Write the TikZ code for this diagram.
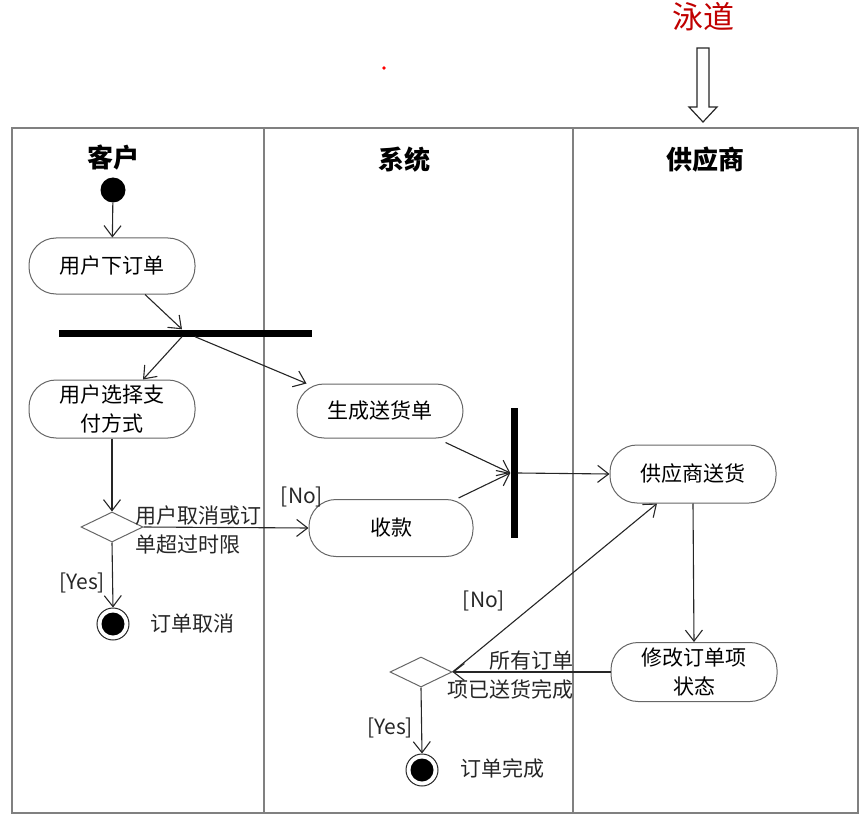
\documentclass[tikz,border=0pt]{standalone}
\usepackage{fontspec}
\setmainfont{Noto Sans CJK SC}
\usetikzlibrary{arrows.meta,shapes.geometric,calc}
\definecolor{lanered}{HTML}{C00000}
\begin{document}
\begin{tikzpicture}[x=1pt,y=-1pt,
  act/.style={draw=black!60, line width=1pt, rounded corners=27pt,
    minimum width=166pt, minimum height=56pt, align=center, inner sep=0pt,
    font=\fontsize{21}{29}\selectfont},
  flow/.style={draw=black!85, line width=1.1pt,
    -{Straight Barb[length=11pt,width=17pt,line width=1.1pt]}},
  dec/.style={diamond, draw=black!60, line width=1pt, aspect=2,
    minimum width=62pt, minimum height=30pt, inner sep=0pt},
  bar/.style={fill=black, draw=none, inner sep=0pt},
  lbl/.style={font=\fontsize{21}{29}\selectfont, inner sep=0pt, text=black!85},
  head/.style={font=\fontsize{26}{30}\selectfont\bfseries, inner sep=0pt},
  startnode/.style={circle, fill=black, minimum size=25pt, inner sep=0pt},
  endring/.style={circle, draw=black!85, line width=1pt, fill=white, minimum size=32pt, inner sep=0pt},
]
\useasboundingbox (0,0) rectangle (865,829);

% title and hollow arrow pointing at the lanes
\node[font=\fontsize{31}{34}\selectfont, text=lanered, inner sep=0pt] (title) at (703,17) {泳道};
\draw[black!85, line width=1.2pt, fill=white] (697,48) -- (709,48) -- (709,107) -- (717,107)
  -- (703,122) -- (689,107) -- (697,107) -- cycle;
\fill[red] (384,68) circle (1.8);

% swimlane frame
\draw[black!50, line width=1.1pt] (12,128) rectangle (858,813);
\draw[black!50, line width=1.1pt] (264,128) -- (264,813);
\draw[black!50, line width=1.1pt] (573,128) -- (573,813);

\node[head] (h1) at (113,158) {客户};
\node[head] (h2) at (404,160) {系统};
\node[head] (h3) at (705,160) {供应商};

% nodes
\node[startnode] (start) at (113,190) {};
\node[act] (order) at (112,266) {用户下订单};
\node[bar, minimum width=253pt, minimum height=7pt] (fork) at (185,333) {};
\node[act, minimum height=58pt] (pay) at (112,409) {用户选择支\\付方式};
\node[act, minimum height=54pt] (gen) at (380,411) {生成送货单};
\node[act, minimum height=57pt, minimum width=164pt] (recv) at (391,528) {收款};
\node[bar, minimum width=7pt, minimum height=130pt] (join) at (514,473) {};
\node[act, minimum height=58pt] (supply) at (693,474) {供应商送货};
\node[act, minimum height=59pt] (modify) at (694,672) {修改订单项\\状态};
\node[dec] (dec1) at (112,527) {};
\node[dec] (dec2) at (421,672) {};
\node[endring] (end1) at (113,624) {};
\fill[black] (end1.center) circle (11.5);
\node[endring] (end2) at (422,770) {};
\fill[black] (end2.center) circle (11.5);

% connectors
\draw[flow] (start) -- (order);
\draw[flow] ([xshift=33pt]order.south) -- ([xshift=-3pt]fork.north);
\draw[flow] ([xshift=-3pt]fork.south) -- ([xshift=31pt]pay.north);
\draw[flow] ([xshift=10pt]fork.south) -- ([xshift=10pt]gen.north west);
\draw[flow] ([xshift=-18pt,yshift=-4pt]gen.south east) -- (join.west);
\draw[flow] ([xshift=-15pt,yshift=1pt]recv.north east) -- (join.west);
\draw[flow] (join.east) -- (supply.west);
\draw[flow] (supply.south) -- (modify.north);
\draw[flow] (modify.west) -- (dec2.east);
\draw[flow] (dec2.east) -- ([xshift=-36pt]supply.south);
\draw[flow] (dec2.south) -- (end2.north);
\draw[flow] (pay.south) -- (dec1.north);
\draw[flow] (dec1.east) -- (recv.west);
\draw[flow] (dec1.south) -- (end1.north);

% guard and state labels
\node[lbl, anchor=west, align=left] (c1) at (135,530) {用户取消或订\\单超过时限};
\node[lbl] (no1) at (302,497) {[No]};
\node[lbl] (yes1) at (82,583) {[Yes]};
\node[lbl] (t1) at (192,624) {订单取消};
\node[lbl, anchor=east, align=right] (c2) at (574,675) {所有订单\\项已送货完成};
\node[lbl] (no2) at (484,601) {[No]};
\node[lbl] (yes2) at (390,728) {[Yes]};
\node[lbl] (t2) at (502,768) {订单完成};
\end{tikzpicture}
\end{document}
